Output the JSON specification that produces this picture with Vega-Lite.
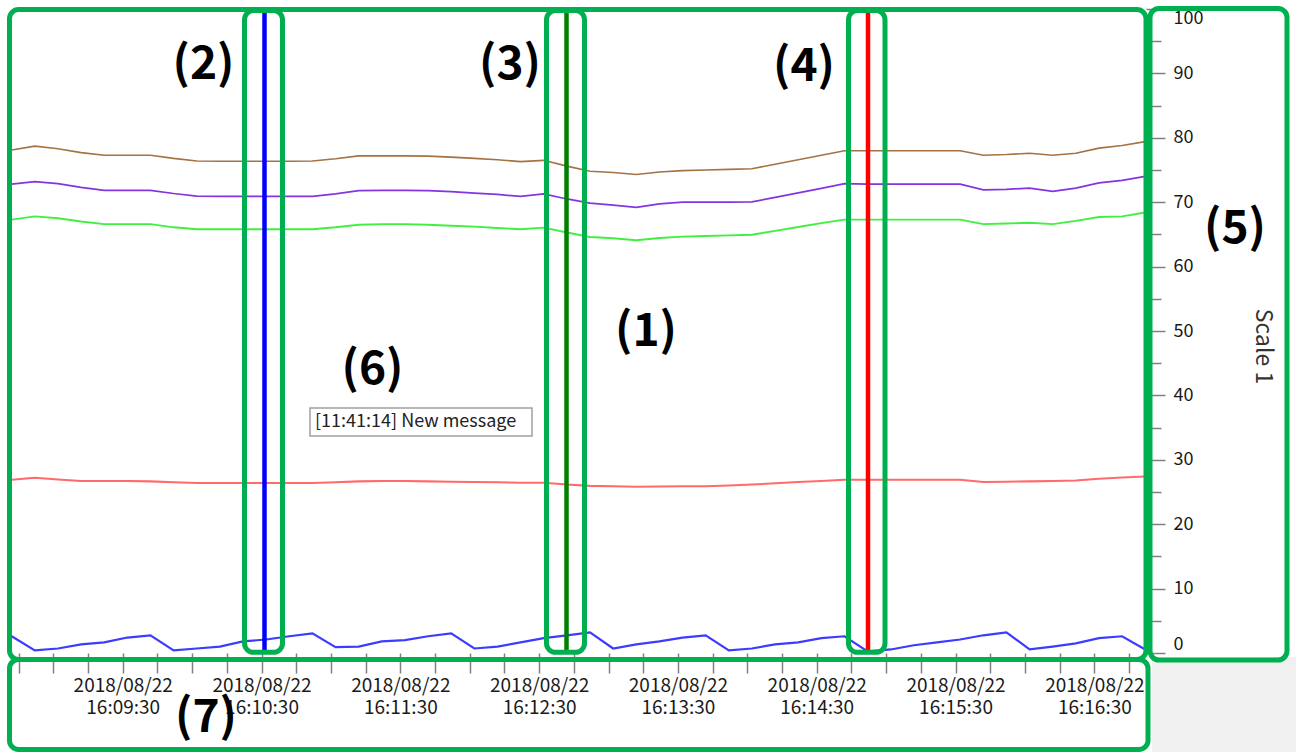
{
"$schema":"https://vega.github.io/schema/vega-lite/v6.json",
"width":1136,"height":644,
"autosize":{"type":"none"},
"padding":{"left":10,"top":9,"right":150,"bottom":99},
"background":"white",
"config":{"view":{"stroke":null},"font":"Noto Sans CJK JP"},
"datasets":{
"series":[
{"t":"2018-08-22T16:08:42","s":"Ch1","v":78.1},{"t":"2018-08-22T16:08:42","s":"Ch2","v":72.8},{"t":"2018-08-22T16:08:42","s":"Ch3","v":67.3},{"t":"2018-08-22T16:08:42","s":"Ch4","v":26.9},{"t":"2018-08-22T16:08:42","s":"Ch5","v":2.6},
{"t":"2018-08-22T16:08:52","s":"Ch1","v":78.7},{"t":"2018-08-22T16:08:52","s":"Ch2","v":73.2},{"t":"2018-08-22T16:08:52","s":"Ch3","v":67.8},{"t":"2018-08-22T16:08:52","s":"Ch4","v":27.2},{"t":"2018-08-22T16:08:52","s":"Ch5","v":0.4},
{"t":"2018-08-22T16:09:02","s":"Ch1","v":78.3},{"t":"2018-08-22T16:09:02","s":"Ch2","v":72.9},{"t":"2018-08-22T16:09:02","s":"Ch3","v":67.5},{"t":"2018-08-22T16:09:02","s":"Ch4","v":26.95},{"t":"2018-08-22T16:09:02","s":"Ch5","v":0.7},
{"t":"2018-08-22T16:09:12","s":"Ch1","v":77.7},{"t":"2018-08-22T16:09:12","s":"Ch2","v":72.3},{"t":"2018-08-22T16:09:12","s":"Ch3","v":67.0},{"t":"2018-08-22T16:09:12","s":"Ch4","v":26.7},{"t":"2018-08-22T16:09:12","s":"Ch5","v":1.35},
{"t":"2018-08-22T16:09:22","s":"Ch1","v":77.3},{"t":"2018-08-22T16:09:22","s":"Ch2","v":71.85},{"t":"2018-08-22T16:09:22","s":"Ch3","v":66.6},{"t":"2018-08-22T16:09:22","s":"Ch4","v":26.7},{"t":"2018-08-22T16:09:22","s":"Ch5","v":1.65},
{"t":"2018-08-22T16:09:32","s":"Ch1","v":77.3},{"t":"2018-08-22T16:09:32","s":"Ch2","v":71.85},{"t":"2018-08-22T16:09:32","s":"Ch3","v":66.6},{"t":"2018-08-22T16:09:32","s":"Ch4","v":26.7},{"t":"2018-08-22T16:09:32","s":"Ch5","v":2.4},
{"t":"2018-08-22T16:09:42","s":"Ch1","v":77.3},{"t":"2018-08-22T16:09:42","s":"Ch2","v":71.85},{"t":"2018-08-22T16:09:42","s":"Ch3","v":66.6},{"t":"2018-08-22T16:09:42","s":"Ch4","v":26.65},{"t":"2018-08-22T16:09:42","s":"Ch5","v":2.75},
{"t":"2018-08-22T16:09:52","s":"Ch1","v":76.8},{"t":"2018-08-22T16:09:52","s":"Ch2","v":71.35},{"t":"2018-08-22T16:09:52","s":"Ch3","v":66.1},{"t":"2018-08-22T16:09:52","s":"Ch4","v":26.5},{"t":"2018-08-22T16:09:52","s":"Ch5","v":0.4},
{"t":"2018-08-22T16:10:02","s":"Ch1","v":76.4},{"t":"2018-08-22T16:10:02","s":"Ch2","v":70.95},{"t":"2018-08-22T16:10:02","s":"Ch3","v":65.8},{"t":"2018-08-22T16:10:02","s":"Ch4","v":26.4},{"t":"2018-08-22T16:10:02","s":"Ch5","v":0.7},
{"t":"2018-08-22T16:10:12","s":"Ch1","v":76.35},{"t":"2018-08-22T16:10:12","s":"Ch2","v":70.9},{"t":"2018-08-22T16:10:12","s":"Ch3","v":65.8},{"t":"2018-08-22T16:10:12","s":"Ch4","v":26.4},{"t":"2018-08-22T16:10:12","s":"Ch5","v":1.0},
{"t":"2018-08-22T16:10:22","s":"Ch1","v":76.35},{"t":"2018-08-22T16:10:22","s":"Ch2","v":70.9},{"t":"2018-08-22T16:10:22","s":"Ch3","v":65.8},{"t":"2018-08-22T16:10:22","s":"Ch4","v":26.4},{"t":"2018-08-22T16:10:22","s":"Ch5","v":1.8},
{"t":"2018-08-22T16:10:32","s":"Ch1","v":76.35},{"t":"2018-08-22T16:10:32","s":"Ch2","v":70.9},{"t":"2018-08-22T16:10:32","s":"Ch3","v":65.8},{"t":"2018-08-22T16:10:32","s":"Ch4","v":26.4},{"t":"2018-08-22T16:10:32","s":"Ch5","v":2.1},
{"t":"2018-08-22T16:10:42","s":"Ch1","v":76.35},{"t":"2018-08-22T16:10:42","s":"Ch2","v":70.9},{"t":"2018-08-22T16:10:42","s":"Ch3","v":65.8},{"t":"2018-08-22T16:10:42","s":"Ch4","v":26.4},{"t":"2018-08-22T16:10:42","s":"Ch5","v":2.6},
{"t":"2018-08-22T16:10:52","s":"Ch1","v":76.4},{"t":"2018-08-22T16:10:52","s":"Ch2","v":70.9},{"t":"2018-08-22T16:10:52","s":"Ch3","v":65.8},{"t":"2018-08-22T16:10:52","s":"Ch4","v":26.4},{"t":"2018-08-22T16:10:52","s":"Ch5","v":3.05},
{"t":"2018-08-22T16:11:02","s":"Ch1","v":76.75},{"t":"2018-08-22T16:11:02","s":"Ch2","v":71.3},{"t":"2018-08-22T16:11:02","s":"Ch3","v":66.1},{"t":"2018-08-22T16:11:02","s":"Ch4","v":26.5},{"t":"2018-08-22T16:11:02","s":"Ch5","v":0.9},
{"t":"2018-08-22T16:11:12","s":"Ch1","v":77.2},{"t":"2018-08-22T16:11:12","s":"Ch2","v":71.8},{"t":"2018-08-22T16:11:12","s":"Ch3","v":66.5},{"t":"2018-08-22T16:11:12","s":"Ch4","v":26.65},{"t":"2018-08-22T16:11:12","s":"Ch5","v":1.0},
{"t":"2018-08-22T16:11:22","s":"Ch1","v":77.2},{"t":"2018-08-22T16:11:22","s":"Ch2","v":71.85},{"t":"2018-08-22T16:11:22","s":"Ch3","v":66.6},{"t":"2018-08-22T16:11:22","s":"Ch4","v":26.7},{"t":"2018-08-22T16:11:22","s":"Ch5","v":1.8},
{"t":"2018-08-22T16:11:32","s":"Ch1","v":77.2},{"t":"2018-08-22T16:11:32","s":"Ch2","v":71.85},{"t":"2018-08-22T16:11:32","s":"Ch3","v":66.6},{"t":"2018-08-22T16:11:32","s":"Ch4","v":26.7},{"t":"2018-08-22T16:11:32","s":"Ch5","v":2.0},
{"t":"2018-08-22T16:11:42","s":"Ch1","v":77.15},{"t":"2018-08-22T16:11:42","s":"Ch2","v":71.8},{"t":"2018-08-22T16:11:42","s":"Ch3","v":66.5},{"t":"2018-08-22T16:11:42","s":"Ch4","v":26.65},{"t":"2018-08-22T16:11:42","s":"Ch5","v":2.6},
{"t":"2018-08-22T16:11:52","s":"Ch1","v":77.0},{"t":"2018-08-22T16:11:52","s":"Ch2","v":71.65},{"t":"2018-08-22T16:11:52","s":"Ch3","v":66.35},{"t":"2018-08-22T16:11:52","s":"Ch4","v":26.6},{"t":"2018-08-22T16:11:52","s":"Ch5","v":3.05},
{"t":"2018-08-22T16:12:02","s":"Ch1","v":76.8},{"t":"2018-08-22T16:12:02","s":"Ch2","v":71.4},{"t":"2018-08-22T16:12:02","s":"Ch3","v":66.2},{"t":"2018-08-22T16:12:02","s":"Ch4","v":26.55},{"t":"2018-08-22T16:12:02","s":"Ch5","v":0.7},
{"t":"2018-08-22T16:12:12","s":"Ch1","v":76.6},{"t":"2018-08-22T16:12:12","s":"Ch2","v":71.2},{"t":"2018-08-22T16:12:12","s":"Ch3","v":66.0},{"t":"2018-08-22T16:12:12","s":"Ch4","v":26.5},{"t":"2018-08-22T16:12:12","s":"Ch5","v":1.0},
{"t":"2018-08-22T16:12:22","s":"Ch1","v":76.3},{"t":"2018-08-22T16:12:22","s":"Ch2","v":70.9},{"t":"2018-08-22T16:12:22","s":"Ch3","v":65.8},{"t":"2018-08-22T16:12:22","s":"Ch4","v":26.45},{"t":"2018-08-22T16:12:22","s":"Ch5","v":1.65},
{"t":"2018-08-22T16:12:32","s":"Ch1","v":76.5},{"t":"2018-08-22T16:12:32","s":"Ch2","v":71.3},{"t":"2018-08-22T16:12:32","s":"Ch3","v":66.05},{"t":"2018-08-22T16:12:32","s":"Ch4","v":26.45},{"t":"2018-08-22T16:12:32","s":"Ch5","v":2.3},
{"t":"2018-08-22T16:12:42","s":"Ch1","v":75.6},{"t":"2018-08-22T16:12:42","s":"Ch2","v":70.5},{"t":"2018-08-22T16:12:42","s":"Ch3","v":65.3},{"t":"2018-08-22T16:12:42","s":"Ch4","v":26.15},{"t":"2018-08-22T16:12:42","s":"Ch5","v":2.75},
{"t":"2018-08-22T16:12:52","s":"Ch1","v":74.8},{"t":"2018-08-22T16:12:52","s":"Ch2","v":69.85},{"t":"2018-08-22T16:12:52","s":"Ch3","v":64.6},{"t":"2018-08-22T16:12:52","s":"Ch4","v":25.95},{"t":"2018-08-22T16:12:52","s":"Ch5","v":3.2},
{"t":"2018-08-22T16:13:02","s":"Ch1","v":74.6},{"t":"2018-08-22T16:13:02","s":"Ch2","v":69.55},{"t":"2018-08-22T16:13:02","s":"Ch3","v":64.4},{"t":"2018-08-22T16:13:02","s":"Ch4","v":25.9},{"t":"2018-08-22T16:13:02","s":"Ch5","v":0.7},
{"t":"2018-08-22T16:13:12","s":"Ch1","v":74.3},{"t":"2018-08-22T16:13:12","s":"Ch2","v":69.2},{"t":"2018-08-22T16:13:12","s":"Ch3","v":64.1},{"t":"2018-08-22T16:13:12","s":"Ch4","v":25.8},{"t":"2018-08-22T16:13:12","s":"Ch5","v":1.35},
{"t":"2018-08-22T16:13:22","s":"Ch1","v":74.7},{"t":"2018-08-22T16:13:22","s":"Ch2","v":69.75},{"t":"2018-08-22T16:13:22","s":"Ch3","v":64.45},{"t":"2018-08-22T16:13:22","s":"Ch4","v":25.85},{"t":"2018-08-22T16:13:22","s":"Ch5","v":1.8},
{"t":"2018-08-22T16:13:32","s":"Ch1","v":74.9},{"t":"2018-08-22T16:13:32","s":"Ch2","v":70.0},{"t":"2018-08-22T16:13:32","s":"Ch3","v":64.65},{"t":"2018-08-22T16:13:32","s":"Ch4","v":25.9},{"t":"2018-08-22T16:13:32","s":"Ch5","v":2.4},
{"t":"2018-08-22T16:13:42","s":"Ch1","v":75.0},{"t":"2018-08-22T16:13:42","s":"Ch2","v":70.0},{"t":"2018-08-22T16:13:42","s":"Ch3","v":64.75},{"t":"2018-08-22T16:13:42","s":"Ch4","v":25.9},{"t":"2018-08-22T16:13:42","s":"Ch5","v":2.75},
{"t":"2018-08-22T16:13:52","s":"Ch1","v":75.1},{"t":"2018-08-22T16:13:52","s":"Ch2","v":70.0},{"t":"2018-08-22T16:13:52","s":"Ch3","v":64.85},{"t":"2018-08-22T16:13:52","s":"Ch4","v":26.0},{"t":"2018-08-22T16:13:52","s":"Ch5","v":0.4},
{"t":"2018-08-22T16:14:02","s":"Ch1","v":75.2},{"t":"2018-08-22T16:14:02","s":"Ch2","v":70.05},{"t":"2018-08-22T16:14:02","s":"Ch3","v":64.95},{"t":"2018-08-22T16:14:02","s":"Ch4","v":26.15},{"t":"2018-08-22T16:14:02","s":"Ch5","v":0.7},
{"t":"2018-08-22T16:14:12","s":"Ch1","v":75.9},{"t":"2018-08-22T16:14:12","s":"Ch2","v":70.75},{"t":"2018-08-22T16:14:12","s":"Ch3","v":65.55},{"t":"2018-08-22T16:14:12","s":"Ch4","v":26.35},{"t":"2018-08-22T16:14:12","s":"Ch5","v":1.35},
{"t":"2018-08-22T16:14:22","s":"Ch1","v":76.6},{"t":"2018-08-22T16:14:22","s":"Ch2","v":71.45},{"t":"2018-08-22T16:14:22","s":"Ch3","v":66.15},{"t":"2018-08-22T16:14:22","s":"Ch4","v":26.55},{"t":"2018-08-22T16:14:22","s":"Ch5","v":1.65},
{"t":"2018-08-22T16:14:32","s":"Ch1","v":77.3},{"t":"2018-08-22T16:14:32","s":"Ch2","v":72.15},{"t":"2018-08-22T16:14:32","s":"Ch3","v":66.75},{"t":"2018-08-22T16:14:32","s":"Ch4","v":26.7},{"t":"2018-08-22T16:14:32","s":"Ch5","v":2.3},
{"t":"2018-08-22T16:14:42","s":"Ch1","v":78.0},{"t":"2018-08-22T16:14:42","s":"Ch2","v":72.9},{"t":"2018-08-22T16:14:42","s":"Ch3","v":67.3},{"t":"2018-08-22T16:14:42","s":"Ch4","v":26.9},{"t":"2018-08-22T16:14:42","s":"Ch5","v":2.6},
{"t":"2018-08-22T16:14:52","s":"Ch1","v":78.0},{"t":"2018-08-22T16:14:52","s":"Ch2","v":72.8},{"t":"2018-08-22T16:14:52","s":"Ch3","v":67.3},{"t":"2018-08-22T16:14:52","s":"Ch4","v":26.9},{"t":"2018-08-22T16:14:52","s":"Ch5","v":0.25},
{"t":"2018-08-22T16:15:02","s":"Ch1","v":78.0},{"t":"2018-08-22T16:15:02","s":"Ch2","v":72.8},{"t":"2018-08-22T16:15:02","s":"Ch3","v":67.3},{"t":"2018-08-22T16:15:02","s":"Ch4","v":26.9},{"t":"2018-08-22T16:15:02","s":"Ch5","v":0.55},
{"t":"2018-08-22T16:15:12","s":"Ch1","v":78.0},{"t":"2018-08-22T16:15:12","s":"Ch2","v":72.8},{"t":"2018-08-22T16:15:12","s":"Ch3","v":67.3},{"t":"2018-08-22T16:15:12","s":"Ch4","v":26.9},{"t":"2018-08-22T16:15:12","s":"Ch5","v":1.2},
{"t":"2018-08-22T16:15:22","s":"Ch1","v":78.0},{"t":"2018-08-22T16:15:22","s":"Ch2","v":72.8},{"t":"2018-08-22T16:15:22","s":"Ch3","v":67.3},{"t":"2018-08-22T16:15:22","s":"Ch4","v":26.9},{"t":"2018-08-22T16:15:22","s":"Ch5","v":1.65},
{"t":"2018-08-22T16:15:32","s":"Ch1","v":78.0},{"t":"2018-08-22T16:15:32","s":"Ch2","v":72.8},{"t":"2018-08-22T16:15:32","s":"Ch3","v":67.3},{"t":"2018-08-22T16:15:32","s":"Ch4","v":26.9},{"t":"2018-08-22T16:15:32","s":"Ch5","v":2.1},
{"t":"2018-08-22T16:15:42","s":"Ch1","v":77.3},{"t":"2018-08-22T16:15:42","s":"Ch2","v":71.9},{"t":"2018-08-22T16:15:42","s":"Ch3","v":66.6},{"t":"2018-08-22T16:15:42","s":"Ch4","v":26.55},{"t":"2018-08-22T16:15:42","s":"Ch5","v":2.75},
{"t":"2018-08-22T16:15:52","s":"Ch1","v":77.4},{"t":"2018-08-22T16:15:52","s":"Ch2","v":72.0},{"t":"2018-08-22T16:15:52","s":"Ch3","v":66.7},{"t":"2018-08-22T16:15:52","s":"Ch4","v":26.6},{"t":"2018-08-22T16:15:52","s":"Ch5","v":3.2},
{"t":"2018-08-22T16:16:02","s":"Ch1","v":77.6},{"t":"2018-08-22T16:16:02","s":"Ch2","v":72.2},{"t":"2018-08-22T16:16:02","s":"Ch3","v":66.8},{"t":"2018-08-22T16:16:02","s":"Ch4","v":26.65},{"t":"2018-08-22T16:16:02","s":"Ch5","v":0.55},
{"t":"2018-08-22T16:16:12","s":"Ch1","v":77.3},{"t":"2018-08-22T16:16:12","s":"Ch2","v":71.7},{"t":"2018-08-22T16:16:12","s":"Ch3","v":66.6},{"t":"2018-08-22T16:16:12","s":"Ch4","v":26.7},{"t":"2018-08-22T16:16:12","s":"Ch5","v":1.0},
{"t":"2018-08-22T16:16:22","s":"Ch1","v":77.6},{"t":"2018-08-22T16:16:22","s":"Ch2","v":72.2},{"t":"2018-08-22T16:16:22","s":"Ch3","v":67.1},{"t":"2018-08-22T16:16:22","s":"Ch4","v":26.8},{"t":"2018-08-22T16:16:22","s":"Ch5","v":1.5},
{"t":"2018-08-22T16:16:32","s":"Ch1","v":78.4},{"t":"2018-08-22T16:16:32","s":"Ch2","v":73.0},{"t":"2018-08-22T16:16:32","s":"Ch3","v":67.7},{"t":"2018-08-22T16:16:32","s":"Ch4","v":27.05},{"t":"2018-08-22T16:16:32","s":"Ch5","v":2.3},
{"t":"2018-08-22T16:16:42","s":"Ch1","v":78.8},{"t":"2018-08-22T16:16:42","s":"Ch2","v":73.4},{"t":"2018-08-22T16:16:42","s":"Ch3","v":67.8},{"t":"2018-08-22T16:16:42","s":"Ch4","v":27.25},{"t":"2018-08-22T16:16:42","s":"Ch5","v":2.6},
{"t":"2018-08-22T16:16:52","s":"Ch1","v":79.4},{"t":"2018-08-22T16:16:52","s":"Ch2","v":74.0},{"t":"2018-08-22T16:16:52","s":"Ch3","v":68.4},{"t":"2018-08-22T16:16:52","s":"Ch4","v":27.4},{"t":"2018-08-22T16:16:52","s":"Ch5","v":0.55}
],
"corner":[{"t":"2018-08-22T16:16:54.930","t2":"2018-08-22T16:18:30.000","v":-0.62,"v2":-16}],
"cursors":[
{"t":"2018-08-22T16:10:31.290","v":0,"v2":100,"cursor":"(2)"},
{"t":"2018-08-22T16:12:41.840","v":0,"v2":100,"cursor":"(3)"},
{"t":"2018-08-22T16:14:52.160","v":0,"v2":100,"cursor":"(4)"}
],
"msgbox":[{"t":"2018-08-22T16:10:50.960","t2":"2018-08-22T16:12:26.920","v":38.04,"v2":33.7}],
"msgtext":[{"t":"2018-08-22T16:10:53.120","v":35.87,"text":"[11:41:14] New message"}],
"boxes":[
{"t":"2018-08-22T16:08:41.060","t2":"2018-08-22T16:16:52.330","v":99.92,"v2":-1.01,"box":"1"},
{"t":"2018-08-22T16:10:22.650","t2":"2018-08-22T16:10:39.070","v":99.75,"v2":0.1,"box":"2"},
{"t":"2018-08-22T16:12:33.190","t2":"2018-08-22T16:12:49.610","v":99.75,"v2":0.1,"box":"3"},
{"t":"2018-08-22T16:14:43.730","t2":"2018-08-22T16:14:59.510","v":99.75,"v2":0.1,"box":"4"},
{"t":"2018-08-22T16:16:54.060","t2":"2018-08-22T16:17:53.280","v":100.08,"v2":-1.09,"box":"5"},
{"t":"2018-08-22T16:08:41.060","t2":"2018-08-22T16:16:53.190","v":-1.01,"v2":-14.98,"box":"7"}
],
"labels":[
{"t":"2018-08-22T16:13:16.200","v":49.77,"label":"(1)"},
{"t":"2018-08-22T16:10:04.920","v":91.38,"label":"(2)"},
{"t":"2018-08-22T16:12:17.410","v":91.3,"label":"(3)"},
{"t":"2018-08-22T16:14:24.500","v":91.07,"label":"(4)"},
{"t":"2018-08-22T16:17:30.800","v":65.84,"label":"(5)"},
{"t":"2018-08-22T16:11:17.980","v":43.87,"label":"(6)"},
{"t":"2018-08-22T16:10:06.000","v":-10.02,"label":"(7)"}
]
},
"encoding":{
"x":{"field":"t","type":"temporal",
 "scale":{"type":"utc","domain":[1534954121280,1534954612330],"nice":false},
 "axis":{"title":null,"orient":"bottom","domain":false,"grid":false,
  "values":[1534954125000,1534954140000,1534954155000,1534954170000,1534954185000,1534954200000,1534954215000,1534954230000,1534954245000,1534954260000,1534954275000,1534954290000,1534954305000,1534954320000,1534954335000,1534954350000,1534954365000,1534954380000,1534954395000,1534954410000,1534954425000,1534954440000,1534954455000,1534954470000,1534954485000,1534954500000,1534954515000,1534954530000,1534954545000,1534954560000,1534954575000,1534954590000,1534954605000],
  "tickSize":20,"tickColor":"#808080","tickWidth":1.5,
  "labelExpr":"utcseconds(datum.value) == 30 ? [utcFormat(datum.value, '%Y/%m/%d'), utcFormat(datum.value, '%H:%M:%S')] : ''",
  "labelOverlap":false,"labelFlush":false,"labelBound":false,"labelAngle":0,
  "labelFont":"Noto Sans CJK JP","labelFontSize":19,"labelLineHeight":22,"labelColor":"#1a1a1a","labelPadding":3}},
"y":{"field":"v","type":"quantitative",
 "scale":{"domain":[0,100],"nice":false,"zero":false},
 "axis":{"orient":"right","title":"Scale 1","values":[0,5,10,15,20,25,30,35,40,45,50,55,60,65,70,75,80,85,90,95,100],
  "labelExpr":"datum.value % 10 == 0 ? datum.label : ''",
  "tickSize":19,"tickColor":"#808080","tickWidth":1.5,
  "tickDash":{"condition":{"test":"datum.value % 10 != 0","value":[15,100]},"value":[100,0]},
  "domain":false,"grid":false,"labelFlush":true,
  "labelFont":"Noto Sans CJK JP","labelFontSize":18,"labelPadding":8,"labelColor":"#1a1a1a",
  "titleFont":"Noto Sans CJK JP","titleFontSize":23,"titleFontWeight":"normal","titleColor":"#333333","titlePadding":48,"titleAngle":90,"titleY":337}}
},
"layer":[
{"data":{"name":"corner","format":{"parse":{"t":"utc:'%Y-%m-%dT%H:%M:%S.%L'","t2":"utc:'%Y-%m-%dT%H:%M:%S.%L'"}}},"mark":{"type":"rect","fill":"#f0f0f0","clip":false},
 "encoding":{"x2":{"field":"t2"},"y2":{"field":"v2"}}},
{"data":{"name":"series","format":{"parse":{"t":"utc:'%Y-%m-%dT%H:%M:%S'"}}},"mark":{"type":"line","clip":true},
 "encoding":{
  "color":{"field":"s","type":"nominal","scale":{"domain":["Ch1","Ch2","Ch3","Ch4","Ch5"],"range":["#a47243","#8534e0","#40f040","#ff6a6a","#3c3cff"]},"legend":null},
  "strokeWidth":{"field":"s","type":"nominal","scale":{"domain":["Ch1","Ch2","Ch3","Ch4","Ch5"],"range":[1.6,2.2,1.6,2,1.6]},"legend":null}}},
{"data":{"name":"msgbox","format":{"parse":{"t":"utc:'%Y-%m-%dT%H:%M:%S.%L'","t2":"utc:'%Y-%m-%dT%H:%M:%S.%L'"}}},"mark":{"type":"rect","fill":"white","stroke":"#a0a0a0","strokeWidth":1.5,"clip":false},
 "encoding":{"x2":{"field":"t2"},"y2":{"field":"v2"}}},
{"data":{"name":"msgtext","format":{"parse":{"t":"utc:'%Y-%m-%dT%H:%M:%S.%L'"}}},"mark":{"type":"text","align":"left","baseline":"middle","font":"Noto Sans CJK JP","fontSize":18,"color":"#222222","clip":false},
 "encoding":{"text":{"field":"text"}}},
{"data":{"name":"cursors","format":{"parse":{"t":"utc:'%Y-%m-%dT%H:%M:%S.%L'"}}},"mark":{"type":"rule","strokeWidth":4.5,"clip":false},
 "encoding":{"y2":{"field":"v2"},
  "stroke":{"field":"cursor","type":"nominal","scale":{"domain":["(2)","(3)","(4)"],"range":["#0000ff","#008000","#ff0000"]},"legend":null}}},
{"data":{"name":"boxes","format":{"parse":{"t":"utc:'%Y-%m-%dT%H:%M:%S.%L'","t2":"utc:'%Y-%m-%dT%H:%M:%S.%L'"}}},"mark":{"type":"rect","fillOpacity":0,"stroke":"#00b050","strokeWidth":5,"cornerRadius":9,"clip":false},
 "encoding":{"x2":{"field":"t2"},"y2":{"field":"v2"}}},
{"data":{"name":"labels","format":{"parse":{"t":"utc:'%Y-%m-%dT%H:%M:%S.%L'"}}},"mark":{"type":"text","align":"center","baseline":"middle","font":"Noto Sans CJK JP","fontSize":46,"fontWeight":"bold","color":"#000000","clip":false},
 "encoding":{"text":{"field":"label"}}}
]
}
